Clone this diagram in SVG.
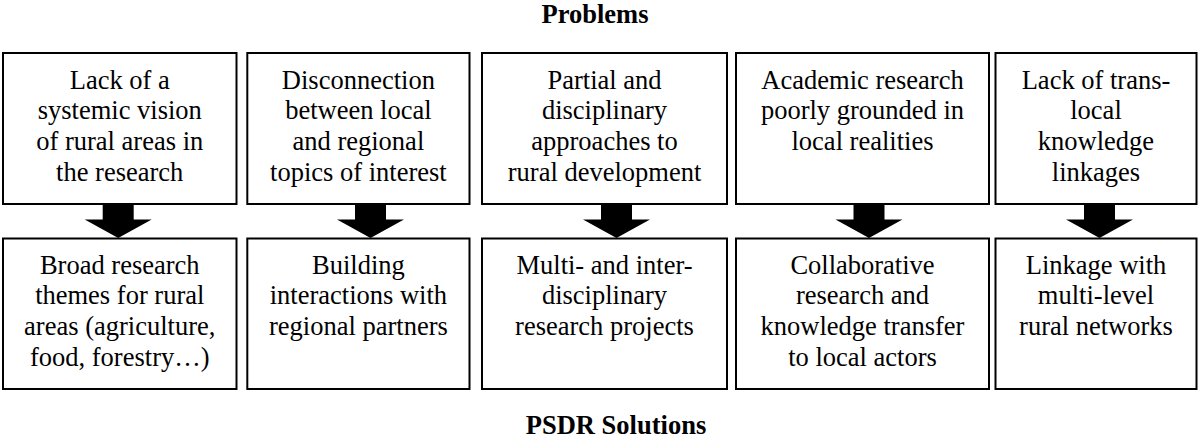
<svg xmlns="http://www.w3.org/2000/svg" width="1198" height="439" viewBox="0 0 1198 439">
<style>
.box{fill:#fff;stroke:#000;stroke-width:2}
text{font-family:'Liberation Serif','Times New Roman','DejaVu Serif',serif;font-size:26.5px;fill:#000;text-anchor:middle}
.h{font-weight:bold}
.arr{fill:#000}
</style>
<rect width="1198" height="439" fill="#fff"/>
<g font-family="Liberation Serif, DejaVu Serif, serif">
<text class="h" x="595" y="23.3">Problems</text>
<text class="h" x="616" y="434.3">PSDR Solutions</text>

<g id="p1"><rect class="box" x="3" y="53" width="233.5" height="151"/>
<text x="119.75" y="88.5">Lack of a</text><text x="119.75" y="119.2">systemic vision</text><text x="119.75" y="149.9">of rural areas in</text><text x="119.75" y="180.6">the research</text></g>
<g id="p2"><rect class="box" x="247.3" y="53" width="222.2" height="151"/>
<text x="358.4" y="88.5">Disconnection</text><text x="358.4" y="119.2">between local</text><text x="358.4" y="149.9">and regional</text><text x="358.4" y="180.6">topics of interest</text></g>
<g id="p3"><rect class="box" x="482" y="53" width="245" height="151"/>
<text x="604.5" y="88.5">Partial and</text><text x="604.5" y="119.2">disciplinary</text><text x="604.5" y="149.9">approaches to</text><text x="604.5" y="180.6">rural development</text></g>
<g id="p4"><rect class="box" x="736" y="53" width="253" height="151"/>
<text x="862.5" y="88.5">Academic research</text><text x="862.5" y="119.2">poorly grounded in</text><text x="862.5" y="149.9">local realities</text></g>
<g id="p5"><rect class="box" x="995.5" y="53" width="201" height="151"/>
<text x="1096" y="88.5">Lack of trans-</text><text x="1096" y="119.2">local</text><text x="1096" y="149.9">knowledge</text><text x="1096" y="180.6">linkages</text></g>

<g id="s1"><rect class="box" x="3" y="238.5" width="233.5" height="150.5"/>
<text x="119.75" y="273.5">Broad research</text><text x="119.75" y="304.2">themes for rural</text><text x="119.75" y="334.9">areas (agriculture,</text><text x="119.75" y="365.6">food, forestry…)</text></g>
<g id="s2"><rect class="box" x="247.3" y="238.5" width="222.2" height="150.5"/>
<text x="358.4" y="273.5">Building</text><text x="358.4" y="304.2">interactions with</text><text x="358.4" y="334.9">regional partners</text></g>
<g id="s3"><rect class="box" x="482" y="238.5" width="245" height="150.5"/>
<text x="604.5" y="273.5">Multi- and inter-</text><text x="604.5" y="304.2">disciplinary</text><text x="604.5" y="334.9">research projects</text></g>
<g id="s4"><rect class="box" x="736" y="238.5" width="253" height="150.5"/>
<text x="862.5" y="273.5">Collaborative</text><text x="862.5" y="304.2">research and</text><text x="862.5" y="334.9">knowledge transfer</text><text x="862.5" y="365.6">to local actors</text></g>
<g id="s5"><rect class="box" x="995.5" y="238.5" width="201" height="150.5"/>
<text x="1096" y="273.5">Linkage with</text><text x="1096" y="304.2">multi-level</text><text x="1096" y="334.9">rural networks</text></g>
</g>
<defs><path id="ba" d="M-15.5,205 H15.5 V219.5 H33.5 L0,238 L-33.5,219.5 H-15.5 Z"/></defs>
<g id="connectors" class="arr">
<use href="#ba" x="118.2"/>
<use href="#ba" x="370.5"/>
<use href="#ba" x="616.5"/>
<use href="#ba" x="869"/>
<use href="#ba" x="1099.5"/>
</g>
</svg>
